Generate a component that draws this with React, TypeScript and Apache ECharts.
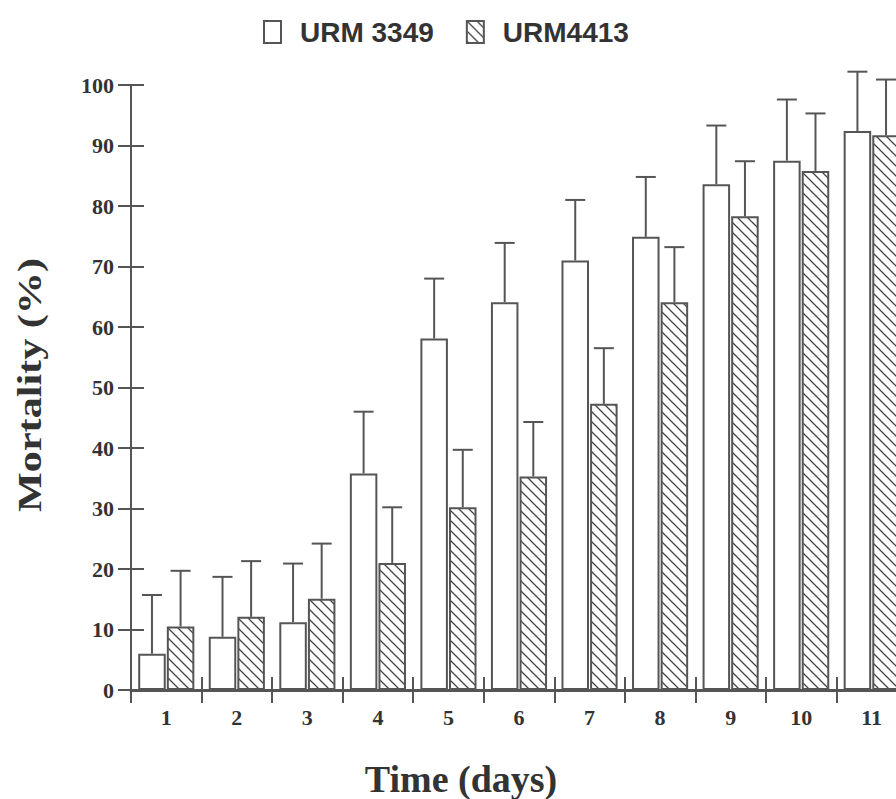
import React, { useEffect, useRef } from "react";
import * as echarts from "echarts";

const categories = ["1", "2", "3", "4", "5", "6", "7", "8", "9", "10", "11"];
const urm3349Mean = [6.0, 8.8, 11.2, 35.8, 58.1, 64.1, 71.0, 74.9, 83.6, 87.5, 92.4];
const urm3349Sd = [9.7, 9.9, 9.7, 10.2, 9.9, 9.8, 10.0, 9.9, 9.7, 10.1, 9.8];
const urm4413Mean = [10.5, 12.1, 15.1, 21.0, 30.2, 35.3, 47.3, 64.1, 78.3, 85.8, 91.7];
const urm4413Sd = [9.2, 9.2, 9.1, 9.2, 9.5, 9.0, 9.2, 9.1, 9.1, 9.5, 9.2];
const yTicks = { min: 0, max: 100, interval: 10 };

const LINE = "#555555";
const TEXT = "#333333";
const BAR_W = 0.39; // fraction of category band
const BAR_GAP = 0.04; // fraction of bar width

function makeHatch() {
  const c = document.createElement("canvas");
  c.width = 10;
  c.height = 10;
  const ctx = c.getContext("2d")!;
  ctx.fillStyle = "#ffffff";
  ctx.fillRect(0, 0, 10, 10);
  ctx.strokeStyle = "#444444";
  ctx.lineWidth = 1.3;
  ctx.beginPath();
  ctx.moveTo(-2, -2);
  ctx.lineTo(12, 12);
  ctx.moveTo(-12, -2);
  ctx.lineTo(2, 12);
  ctx.moveTo(8, -2);
  ctx.lineTo(22, 12);
  ctx.stroke();
  return c;
}

function errorSeries(name: string, means: number[], sds: number[], side: number) {
  return {
    type: "custom",
    name,
    clip: false,
    z: 5,
    data: means.map((m, i) => [i, m, m + sds[i]]),
    renderItem: (params: any, api: any) => {
      const idx = api.value(0);
      const base = api.coord([idx, api.value(1)]);
      const top = api.coord([idx, api.value(2)]);
      const band = api.size([1, 0])[0];
      const bw = band * BAR_W;
      const off = side * (bw / 2 + (bw * BAR_GAP) / 2);
      const x = base[0] + off;
      const capHalf = 10;
      return {
        type: "group",
        children: [
          {
            type: "line",
            shape: { x1: x, y1: base[1], x2: x, y2: top[1] },
            style: { stroke: LINE, lineWidth: 2 },
          },
          {
            type: "line",
            shape: { x1: x - capHalf, y1: top[1], x2: x + capHalf, y2: top[1] },
            style: { stroke: LINE, lineWidth: 2 },
          },
        ],
      };
    },
  };
}

export default function App() {
  const ref = useRef<HTMLDivElement>(null);

  useEffect(() => {
    if (!ref.current) return;
    const chart = echarts.init(ref.current, null, { renderer: "svg" });
    const hatch = makeHatch();
    const labelFont = {
      fontFamily: "Liberation Serif",
      fontWeight: "bold" as const,
      fontSize: 22,
      color: TEXT,
    };
    const option: any = {
      animation: false,
      backgroundColor: "#ffffff",
      legend: {
        data: ["URM 3349", "URM4413"],
        left: 258,
        top: 13,
        itemWidth: 17,
        itemHeight: 22,
        itemGap: 32,
        icon: "rect",
        textStyle: {
          fontFamily: "Liberation Sans",
          fontWeight: "bold",
          fontSize: 28,
          color: TEXT,
          padding: [0, 0, 0, 14],
        },
      },
      grid: { left: 131, right: 13, top: 85, bottom: 109 },
      xAxis: [
        {
          type: "category",
          data: categories,
          boundaryGap: true,
          axisLine: { lineStyle: { color: LINE, width: 3 } },
          axisTick: { show: true, length: 13, lineStyle: { color: LINE, width: 2 } },
          axisLabel: { ...labelFont, margin: 16 },
        },
        {
          type: "category",
          data: categories,
          position: "bottom",
          boundaryGap: true,
          axisLine: { show: false },
          axisTick: { show: true, inside: true, length: 13, lineStyle: { color: LINE, width: 2 } },
          axisLabel: { show: false },
        },
      ],
      yAxis: [
        {
          type: "value",
          ...yTicks,
          axisLine: { show: true, lineStyle: { color: LINE, width: 2 } },
          axisTick: { show: true, length: 13, lineStyle: { color: LINE, width: 2 } },
          axisLabel: { ...labelFont, margin: 17 },
          splitLine: { show: false },
        },
        {
          type: "value",
          ...yTicks,
          position: "left",
          axisLine: { show: false },
          axisTick: { show: true, inside: true, length: 13, lineStyle: { color: LINE, width: 2 } },
          axisLabel: { show: false },
          splitLine: { show: false },
        },
      ],
      graphic: [
        {
          type: "text",
          x: 29,
          y: 385,
          rotation: Math.PI / 2,
          scaleX: 1.24,
          style: {
            text: "Mortality (%)",
            fontFamily: "Liberation Serif",
            fontWeight: "bold",
            fontSize: 34,
            fill: TEXT,
            align: "center",
            verticalAlign: "middle",
          },
        },
        {
          type: "text",
          x: 461,
          y: 779,
          style: {
            text: "Time (days)",
            fontFamily: "Liberation Serif",
            fontWeight: "bold",
            fontSize: 38,
            fill: TEXT,
            align: "center",
            verticalAlign: "middle",
          },
        },
      ],
      series: [
        {
          type: "bar",
          name: "URM 3349",
          data: urm3349Mean,
          barWidth: `${BAR_W * 100}%`,
          barGap: `${BAR_GAP * 100}%`,
          itemStyle: { color: "#ffffff", borderColor: LINE, borderWidth: 2 },
        },
        {
          type: "bar",
          name: "URM4413",
          data: urm4413Mean,
          barWidth: `${BAR_W * 100}%`,
          barGap: `${BAR_GAP * 100}%`,
          itemStyle: {
            color: { image: hatch, repeat: "repeat", imageWidth: 10, imageHeight: 10 },
            borderColor: LINE,
            borderWidth: 2,
          },
        },
        errorSeries("URM 3349 SD", urm3349Mean, urm3349Sd, -1),
        errorSeries("URM4413 SD", urm4413Mean, urm4413Sd, 1),
      ],
    };
    chart.setOption(option);
    return () => chart.dispose();
  }, []);

  return (
    <div
      style={{
        position: "fixed",
        left: 0,
        top: 0,
        width: 896,
        height: 799,
        overflow: "hidden",
        background: "#ffffff",
      }}
    >
      <div ref={ref} style={{ width: 920, height: 799 }} />
    </div>
  );
}
